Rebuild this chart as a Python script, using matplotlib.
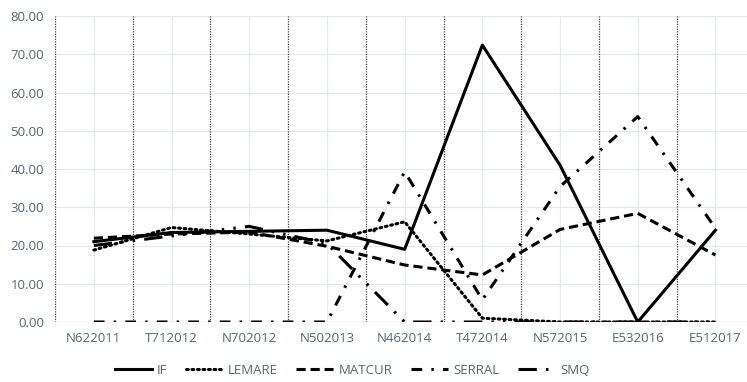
import matplotlib
matplotlib.use("Agg")
import matplotlib.pyplot as plt
import numpy as np

categories = ["N622011", "T712012", "N702012", "N502013", "N462014",
              "T472014", "N572015", "E532016", "E512017"]
IF = [21.0, 23.4, 23.7, 24.0, 19.0, 72.4, 41.0, 0.0, 24.0]
LEMARE = [18.8, 24.7, 23.0, 21.2, 26.2, 1.0, 0.0, 0.0, 0.0]
MATCUR = [21.9, 23.0, 23.5, 19.8, 14.9, 12.3, 24.2, 28.4, 17.5]
SERRAL = [0.0, 0.0, 0.0, 0.0, 39.3, 5.8, 35.4, 53.7, 24.5]
SMQ = [20.0, 22.5, 25.0, 20.5, 0.0, 0.0, 0.0, 0.0, 0.0]
yticks = [0, 10, 20, 30, 40, 50, 60, 70, 80]

plt.rcParams['font.family'] = ['Open Sans', 'DejaVu Sans']
tc = '#5a6474'

fig = plt.figure(figsize=(7.47, 3.82), dpi=100)
ax = fig.add_axes([55/747, (382-322)/382, (747-55)/747, (322-16)/382])

x = np.arange(len(categories))
lw = 2.2
ax.plot(x, IF, color='black', lw=lw, linestyle='-', label='IF')
ax.plot(x, LEMARE, color='black', lw=lw, linestyle=(0, (0.6, 1.2)), dash_capstyle='round', label='LEMARE')
ax.plot(x, MATCUR, color='black', lw=lw, linestyle=(0, (3, 1.6)), label='MATCUR')
ax.plot(x, SERRAL, color='black', lw=lw, linestyle=(0, (3.5, 3, 0.8, 3)), label='SERRAL')
ax.plot(x, SMQ, color='black', lw=lw, linestyle=(0, (6, 3, 0.8, 3, 0.8, 3)), label='SMQ')

ax.set_xlim(-0.5, -0.5 + (747-55)/77.7)
ax.set_ylim(0, 80)
ax.set_yticks(yticks)
ax.set_yticklabels([f"{v:.2f}" for v in yticks])
ax.set_xticks(x)
ax.set_xticklabels(categories)
ax.tick_params(axis='both', length=0, colors=tc, labelsize=9.5)
ax.tick_params(axis='y', pad=8)
ax.tick_params(axis='x', pad=7)

ax.grid(True, color='#e6e8ee', lw=0.9)
ax.set_axisbelow(True)
for b in np.arange(-0.5, 8.0, 1.0):
    ax.axvline(b, color='#444444', lw=0.9, linestyle=(0, (1, 1)), zorder=1)
for s in ax.spines.values():
    s.set_visible(False)
ax.axhline(0, color='#d9d9d9', lw=0.9, zorder=1)

leg = fig.legend(loc='center', bbox_to_anchor=(352/747, 1 - 370/382), ncol=5, frameon=False,
                 handlelength=2.8, columnspacing=1.4, fontsize=9.5, handletextpad=0.4)
for t in leg.get_texts():
    t.set_color(tc)

fig.savefig("out.png", dpi=100)
